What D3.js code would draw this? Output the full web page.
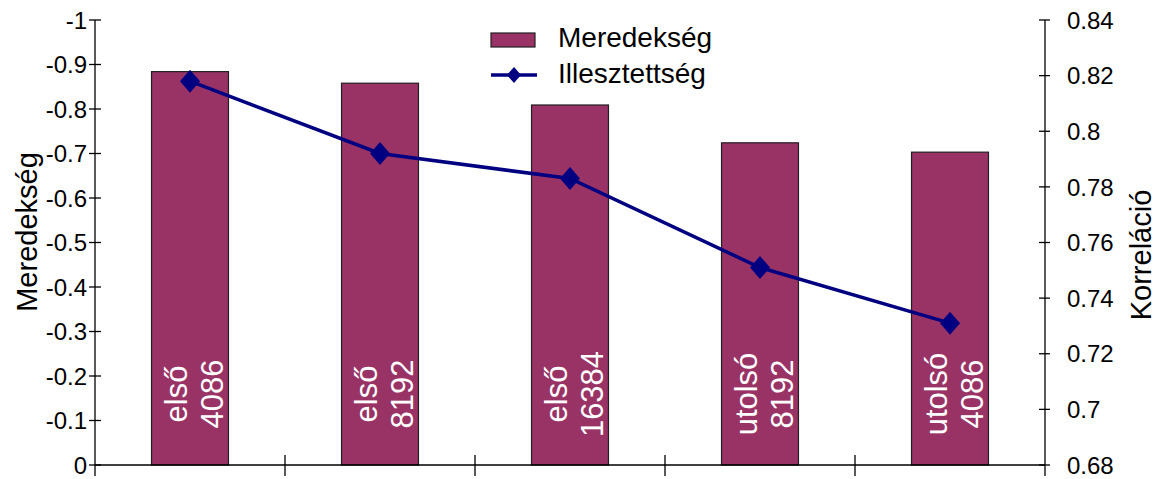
<!DOCTYPE html>
<html>
<head>
<meta charset="utf-8">
<script src="https://cdn.jsdelivr.net/npm/d3@7/dist/d3.min.js"></script>
<style>
  html, body { margin: 0; padding: 0; background: #fff; }
  svg { display: block; font-family: "Liberation Sans", Arial, Helvetica, sans-serif; }
</style>
</head>
<body>
<svg id="chart" width="1158" height="479"></svg>
<script>
// Category labels (two lines each, drawn rotated inside the bars)
const categories = ["első 4086", "első 8192", "első 16384", "utolsó 8192", "utolsó 4086"];
const labelLines = [["első", "4086"], ["első", "8192"], ["első", "16384"], ["utolsó", "8192"], ["utolsó", "4086"]];
// Slope (left axis) and correlation (right axis)
const meredekseg = [-0.884, -0.858, -0.809, -0.724, -0.703];
const illesztettseg = [0.818, 0.792, 0.783, 0.751, 0.731];
// Tick values
const leftTicks = [0, -0.1, -0.2, -0.3, -0.4, -0.5, -0.6, -0.7, -0.8, -0.9, -1];
const rightTicks = [0.68, 0.7, 0.72, 0.74, 0.76, 0.78, 0.8, 0.82, 0.84];

const svg = d3.select("#chart");
const plot = { left: 95, right: 1045, top: 20, bottom: 465 };
const barColor = "#993366";
const lineColor = "#000080";

const x = d3.scaleBand().domain(categories).range([plot.left, plot.right]).paddingInner(0).paddingOuter(0);
const yL = d3.scaleLinear().domain([0, -1]).range([plot.bottom, plot.top]);
const yR = d3.scaleLinear().domain([0.68, 0.84]).range([plot.bottom, plot.top]);

const barW = x.bandwidth() * 0.405;

// Bars
svg.append("g").selectAll("rect").data(meredekseg).join("rect")
  .attr("x", (d, i) => x(categories[i]) + (x.bandwidth() - barW) / 2)
  .attr("y", d => yL(d))
  .attr("width", barW)
  .attr("height", d => yL(0) - yL(d))
  .attr("fill", barColor)
  .attr("stroke", "#231f20")
  .attr("stroke-width", 1.2);

// Rotated category labels inside bars
const lab = svg.append("g").selectAll("text").data(labelLines).join("text")
  .attr("transform", (d, i) => `translate(${x(categories[i]) + x.bandwidth() / 2 - 3},394) rotate(-90)`)
  .attr("text-anchor", "middle")
  .attr("fill", "#fff")
  .attr("font-size", 31);
lab.each(function (d) {
  const t = d3.select(this);
  t.append("tspan").attr("x", 0).attr("dy", 0).text(d[0]);
  t.append("tspan").attr("x", 0).attr("dy", 36).text(d[1]);
});

// Axes
const axisColor = "#000";
const axes = svg.append("g").attr("stroke", axisColor).attr("stroke-width", 1.3);
axes.append("line").attr("x1", plot.left).attr("x2", plot.left).attr("y1", plot.top).attr("y2", plot.bottom + 11);
axes.append("line").attr("x1", plot.right).attr("x2", plot.right).attr("y1", plot.top).attr("y2", plot.bottom + 11);
axes.append("line").attr("x1", plot.left).attr("x2", plot.right).attr("y1", plot.bottom).attr("y2", plot.bottom);

// Left ticks
axes.selectAll(".lt").data(leftTicks).join("line")
  .attr("x1", plot.left - 6).attr("x2", plot.left + 6)
  .attr("y1", d => yL(d)).attr("y2", d => yL(d));
// Right ticks
axes.selectAll(".rt").data(rightTicks).join("line")
  .attr("x1", plot.right - 6).attr("x2", plot.right + 5)
  .attr("y1", d => yR(d)).attr("y2", d => yR(d));
// Category boundary ticks
const bounds = categories.slice(1).map(c => x(c));
axes.selectAll(".ct").data(bounds).join("line")
  .attr("x1", d => d).attr("x2", d => d)
  .attr("y1", plot.bottom - 10).attr("y2", plot.bottom + 11);

// Tick labels
const fmtL = d => (d === 0 ? "0" : String(+d.toFixed(1)));
svg.append("g").selectAll("text").data(leftTicks).join("text")
  .attr("x", plot.left - 8).attr("y", d => yL(d)).attr("dy", "0.36em")
  .attr("text-anchor", "end").attr("font-size", 24).attr("fill", "#000")
  .text(fmtL);
svg.append("g").selectAll("text").data(rightTicks).join("text")
  .attr("x", plot.right + 22).attr("y", d => yR(d)).attr("dy", "0.36em")
  .attr("text-anchor", "start").attr("font-size", 24).attr("fill", "#000")
  .text(d => String(+d.toFixed(2)));

// Axis titles
svg.append("text")
  .attr("transform", "translate(37,232) rotate(-90)")
  .attr("text-anchor", "middle").attr("font-size", 29).attr("fill", "#000")
  .text("Meredekség");
svg.append("text")
  .attr("transform", "translate(1151,255) rotate(-90)")
  .attr("text-anchor", "middle").attr("font-size", 29).attr("fill", "#000")
  .text("Korreláció");

// Correlation line with diamond markers
const cx = i => x(categories[i]) + x.bandwidth() / 2;
const line = d3.line().x((d, i) => cx(i)).y(d => yR(d));
svg.append("path").datum(illesztettseg)
  .attr("d", line).attr("fill", "none")
  .attr("stroke", lineColor).attr("stroke-width", 3.5);

function diamond(cxv, cyv, hw, hh) {
  const p = d3.path();
  p.moveTo(cxv, cyv - hh); p.lineTo(cxv + hw, cyv); p.lineTo(cxv, cyv + hh); p.lineTo(cxv - hw, cyv); p.closePath();
  return p.toString();
}
svg.append("g").selectAll("path").data(illesztettseg).join("path")
  .attr("d", (d, i) => diamond(cx(i), yR(d), 10, 11.5))
  .attr("fill", lineColor);

// Legend
const leg = svg.append("g");
leg.append("rect").attr("x", 491).attr("y", 33).attr("width", 44).attr("height", 14)
  .attr("fill", barColor).attr("stroke", "#231f20").attr("stroke-width", 1.2);
leg.append("text").attr("x", 558).attr("y", 47).attr("font-size", 28).attr("fill", "#000").text("Meredekség");
leg.append("line").attr("x1", 491).attr("x2", 537).attr("y1", 75).attr("y2", 75)
  .attr("stroke", lineColor).attr("stroke-width", 3.5);
leg.append("path").attr("d", diamond(514, 75, 7, 8)).attr("fill", lineColor);
leg.append("text").attr("x", 558).attr("y", 83).attr("font-size", 28).attr("fill", "#000").text("Illesztettség");
</script>
</body>
</html>
